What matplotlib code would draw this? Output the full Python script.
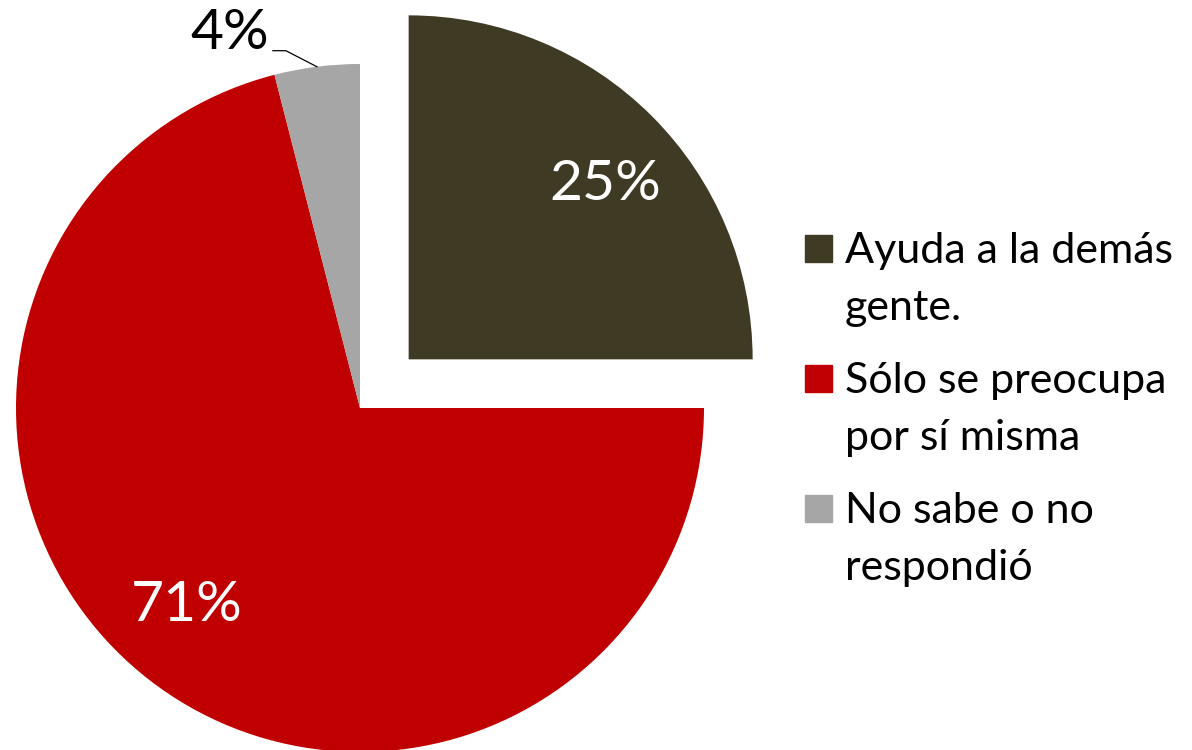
import numpy as np
import matplotlib
matplotlib.use("Agg")
import matplotlib.pyplot as plt
from matplotlib.patches import Rectangle

# Data
labels = ["Ayuda a la demás\ngente.", "Sólo se preocupa\npor sí misma", "No sabe o no\nrespondió"]
shares = [25, 71, 4]
colors = ["#3F3A24", "#C00000", "#A6A6A6"]
explode = [0.2, 0, 0]  # fraction of radius

plt.rcParams["font.family"] = ["Lato", "DejaVu Sans"]

W, H = 1192, 750
fig = plt.figure(figsize=(W / 100, H / 100), dpi=100)
ax = fig.add_axes([0, 0, 1, 1])

cx, cy, R = 360, H - 408, 344
wedges, _ = ax.pie(shares, colors=colors, explode=[e * R for e in explode],
                   startangle=90, counterclock=False, center=(cx, cy), radius=R,
                   wedgeprops=dict(linewidth=0))
ax.set_xlim(0, W)
ax.set_ylim(0, H)
ax.set_aspect("auto")
ax.axis("off")

# Percent labels
for w, val in zip(wedges, shares):
    mid = np.deg2rad((w.theta1 + w.theta2) / 2)
    wx, wy = w.center
    if val >= 10:
        d = 0.765 * w.r
        a = mid - np.deg2rad(3.5)
        ax.text(wx + d * np.cos(a), wy + d * np.sin(a), f"{val}%",
                ha="center", va="center", color="white", fontsize=41)
    else:
        # outside label with leader line
        px, py = wx + w.r * np.cos(mid), wy + w.r * np.sin(mid)
        kx, ky = px - 31, py + 16
        ex = kx - 13
        ax.plot([px, kx, ex], [py, ky, ky], color="black", lw=0.9)
        ax.text(ex - 4, ky + 17, f"{val}%", ha="right", va="center",
                color="black", fontsize=41)

# Legend
for i, (lab, col) in enumerate(zip(labels, colors)):
    top = 235 + 130 * i
    fig.patches.append(Rectangle((805 / W, 1 - (top + 27) / H), 27 / W, 27 / H,
                                 transform=fig.transFigure, color=col))
    for j, line in enumerate(lab.split("\n")):
        base = 263 + 130 * i + 57 * j
        fig.text(845 / W, 1 - base / H, line, ha="left", va="baseline",
                 fontsize=31, color="black")

fig.savefig("out.png", dpi=100)
